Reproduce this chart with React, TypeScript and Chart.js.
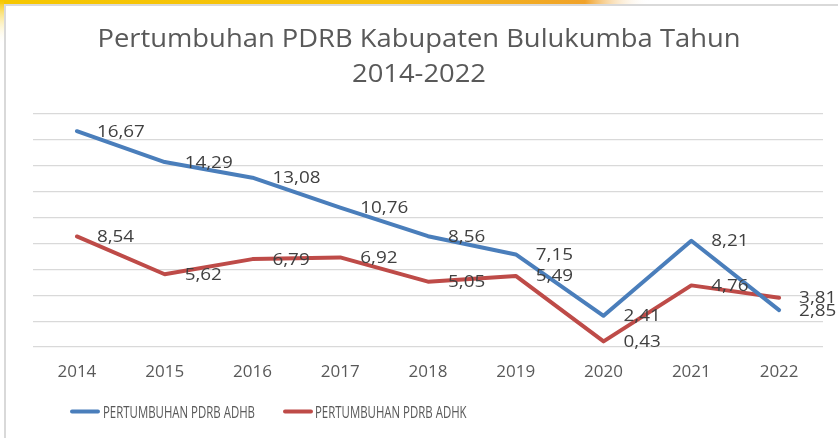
import React, { useEffect, useRef } from "react";
import { Chart, registerables } from "chart.js";

Chart.register(...registerables);

const years = ["2014", "2015", "2016", "2017", "2018", "2019", "2020", "2021", "2022"];
const adhb = [16.67, 14.29, 13.08, 10.76, 8.56, 7.15, 2.41, 8.21, 2.85];
const adhk = [8.54, 5.62, 6.79, 6.92, 5.05, 5.49, 0.43, 4.76, 3.81];
const seriesNames = ["PERTUMBUHAN PDRB ADHB", "PERTUMBUHAN PDRB ADHK"];
const seriesColors = ["#4a7ebb", "#be4b48"];
const titleLines = ["Pertumbuhan PDRB Kabupaten Bulukumba Tahun", "2014-2022"];
const yMin = 0;
const yMax = 18;
const yStep = 2;

const FONT = "'Open Sans', 'DejaVu Sans', sans-serif";

function fmt(v: number) {
  return v.toFixed(2).replace(".", ",");
}

function drawScaledText(
  ctx: CanvasRenderingContext2D,
  text: string,
  x: number,
  y: number,
  sx: number,
  align: CanvasTextAlign
) {
  ctx.save();
  ctx.translate(x, y);
  ctx.scale(sx, 1);
  ctx.textAlign = align;
  ctx.textBaseline = "alphabetic";
  ctx.fillText(text, 0, 0);
  ctx.restore();
}

const decorPlugin = {
  id: "decor",
  beforeDraw(chart: any) {
    const ctx: CanvasRenderingContext2D = chart.ctx;
    const W = chart.width;
    const H = chart.height;
    ctx.save();
    ctx.fillStyle = "#ffffff";
    ctx.fillRect(0, 0, W, H);
    const g = ctx.createLinearGradient(0, 0, 650, 0);
    g.addColorStop(0, "#f6c700");
    g.addColorStop(0.6, "#f5bf10");
    g.addColorStop(0.9, "#f0a22a");
    g.addColorStop(1, "rgba(255,255,255,0)");
    ctx.fillStyle = g;
    ctx.fillRect(0, 0, 650, 4);
    const g2 = ctx.createLinearGradient(0, 0, 0, 45);
    g2.addColorStop(0, "#f6c700");
    g2.addColorStop(1, "rgba(255,255,255,0)");
    ctx.fillStyle = g2;
    ctx.fillRect(0, 0, 4, 45);
    ctx.strokeStyle = "#d9d9d9";
    ctx.lineWidth = 2;
    ctx.beginPath();
    ctx.moveTo(838, 5);
    ctx.lineTo(5, 5);
    ctx.lineTo(5, H);
    ctx.stroke();
    ctx.restore();
  },
  afterDraw(chart: any) {
    const ctx: CanvasRenderingContext2D = chart.ctx;
    ctx.save();
    ctx.fillStyle = "#595959";
    ctx.font = `25px ${FONT}`;
    const w1 = ctx.measureText(titleLines[0]).width;
    const sxT = 643 / w1;
    drawScaledText(ctx, titleLines[0], 419, 47, sxT, "center");
    drawScaledText(ctx, titleLines[1], 419, 82, sxT, "center");
    ctx.font = `17px ${FONT}`;
    const lw = ctx.measureText(seriesNames[0]).width;
    const sxL = 152 / lw;
    const items = [
      { x0: 70, x1: 100, tx: 103 },
      { x0: 283, x1: 313, tx: 315 },
    ];
    items.forEach((it, i) => {
      ctx.strokeStyle = seriesColors[i];
      ctx.lineWidth = 4;
      ctx.lineCap = "round";
      ctx.beginPath();
      ctx.moveTo(it.x0 + 2, 411.5);
      ctx.lineTo(it.x1 - 2, 411.5);
      ctx.stroke();
      ctx.fillStyle = "#595959";
      drawScaledText(ctx, seriesNames[i], it.tx, 417.5, sxL, "left");
    });
    ctx.restore();
  },
  afterDatasetsDraw(chart: any) {
    const ctx: CanvasRenderingContext2D = chart.ctx;
    ctx.save();
    ctx.font = `16px ${FONT}`;
    const sxD = 48 / ctx.measureText("16,67").width;
    ctx.fillStyle = "#404040";
    chart.data.datasets.forEach((ds: any, di: number) => {
      const meta = chart.getDatasetMeta(di);
      meta.data.forEach((pt: any, i: number) => {
        drawScaledText(ctx, fmt(ds.data[i]), pt.x + 20, pt.y + 5.5, sxD, "left");
      });
    });
    ctx.restore();
  },
};

export default function App() {
  const ref = useRef<HTMLCanvasElement | null>(null);
  useEffect(() => {
    document.body.style.margin = "0";
    if (!ref.current) return;
    const chart = new Chart(ref.current, {
      type: "line",
      data: {
        labels: years,
        datasets: [
          {
            label: seriesNames[0],
            data: adhb,
            borderColor: seriesColors[0],
            backgroundColor: seriesColors[0],
            borderWidth: 4,
            pointRadius: 0,
            tension: 0,
            borderJoinStyle: "round",
            borderCapStyle: "round",
          },
          {
            label: seriesNames[1],
            data: adhk,
            borderColor: seriesColors[1],
            backgroundColor: seriesColors[1],
            borderWidth: 4,
            pointRadius: 0,
            tension: 0,
            borderJoinStyle: "round",
            borderCapStyle: "round",
          },
        ],
      },
      options: {
        responsive: false,
        animation: false,
        devicePixelRatio: 1,
        layout: { padding: { left: 33, right: 15, top: 114, bottom: 0 } },
        plugins: {
          legend: { display: false },
          title: { display: false },
          tooltip: { enabled: false },
        },
        scales: {
          x: {
            offset: true,
            grid: { display: false, drawTicks: false },
            border: { display: false },
            ticks: {
              color: "#595959",
              font: { family: FONT, size: 17 },
              padding: 15,
              maxRotation: 0,
            },
            afterFit: (axis: any) => {
              axis.height = 91;
            },
          },
          y: {
            min: yMin,
            max: yMax,
            grid: { color: "#d9d9d9", lineWidth: 1.2, drawTicks: false },
            border: { display: false },
            ticks: { display: false, stepSize: yStep },
            afterFit: (axis: any) => {
              axis.width = 0;
            },
          },
        },
      },
      plugins: [decorPlugin],
    });
    return () => chart.destroy();
  }, []);
  return <canvas ref={ref} width={838} height={438} style={{ display: "block" }} />;
}
